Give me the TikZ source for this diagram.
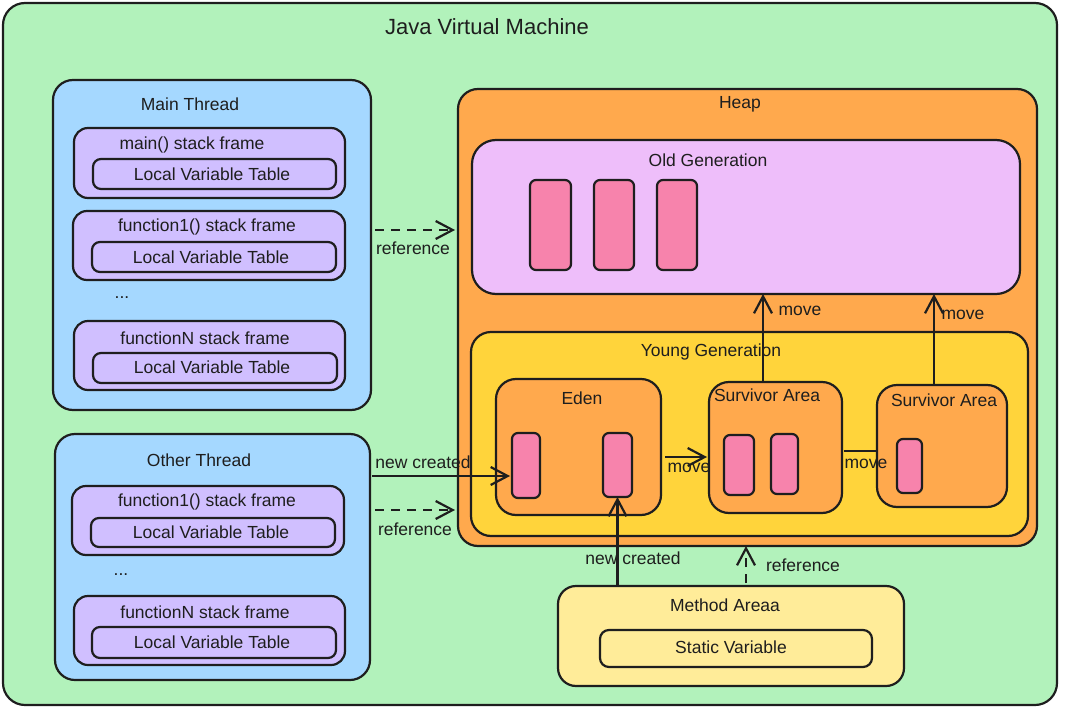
\documentclass[tikz,border=0pt]{standalone}
\usepackage{fontspec}
\setmainfont{Liberation Sans}
\usetikzlibrary{arrows.meta}
\definecolor{jvmc}{HTML}{B2F2BB}
\definecolor{thrc}{HTML}{A5D8FF}
\definecolor{frmc}{HTML}{D0BFFF}
\definecolor{heapc}{HTML}{FFA94D}
\definecolor{oldc}{HTML}{EEBEFA}
\definecolor{youngc}{HTML}{FFD43B}
\definecolor{objc}{HTML}{F783AC}
\definecolor{methc}{HTML}{FFEC99}
\definecolor{inkc}{HTML}{1E1E1E}
\begin{document}
\begin{tikzpicture}[x=1pt,y=-1pt,
  every node/.style={inner sep=0pt, outer sep=0pt, text=inkc},
  area/.style={draw=inkc, line width=2.2pt, rectangle, rounded corners=#1},
  area/.default=16pt,
  lbl/.style={font=\fontsize{17.5}{19}\selectfont},
  ttl/.style={font=\fontsize{22}{24}\selectfont},
  objbox/.style={area=6pt, fill=objc},
  conn/.style={draw=inkc, line width=2.2pt},
  tip/.style={-{Straight Barb[length=17pt,width=18pt,line width=2.2pt]}},
  dashconn/.style={conn, dash pattern=on 9pt off 7pt}
]
\useasboundingbox (0,0) rectangle (1066,712);
% JVM
\node[area=22pt, fill=jvmc, minimum width=1054pt, minimum height=702pt] (jvm) at (530,354) {};
\node[ttl] (jvmt) at (487,27) {Java Virtual Machine};

% Main thread
\node[area=20pt, fill=thrc, minimum width=318pt, minimum height=330pt] (mt) at (212,245) {};
\node[lbl] (mtt) at (190,104) {Main Thread};
\node[area=14pt, fill=frmc, minimum width=271pt, minimum height=70pt] (mf1) at (209.5,163) {};
\node[lbl] (mf1t) at (192,145) {main() stack frame};
\node[area=8pt, fill=frmc, minimum width=243pt, minimum height=30pt] (ml1) at (214.5,174) {};
\node[lbl] (ml1t) at (212,174) {Local Variable Table};
\node[area=14pt, fill=frmc, minimum width=272pt, minimum height=69pt] (mf2) at (209,245.5) {};
\node[lbl] (mf2t) at (207,227) {function1() stack frame};
\node[area=8pt, fill=frmc, minimum width=244pt, minimum height=30pt] (ml2) at (214,257) {};
\node[lbl] (ml2t) at (211,257) {Local Variable Table};
\node[lbl] (mdots) at (122,298) {...};
\node[area=14pt, fill=frmc, minimum width=271pt, minimum height=69pt] (mf3) at (209.5,355.5) {};
\node[lbl] (mf3t) at (205,338) {functionN stack frame};
\node[area=8pt, fill=frmc, minimum width=244pt, minimum height=30pt] (ml3) at (215,368) {};
\node[lbl] (ml3t) at (212,367) {Local Variable Table};

% Other thread
\node[area=20pt, fill=thrc, minimum width=315pt, minimum height=246pt] (ot) at (212.5,557) {};
\node[lbl] (ott) at (199,460) {Other Thread};
\node[area=14pt, fill=frmc, minimum width=272pt, minimum height=69pt] (of1) at (208,520.5) {};
\node[lbl] (of1t) at (207,502) {function1() stack frame};
\node[area=8pt, fill=frmc, minimum width=244pt, minimum height=29pt] (ol1) at (213,532.5) {};
\node[lbl] (ol1t) at (211,532) {Local Variable Table};
\node[lbl] (odots) at (121,575) {...};
\node[area=14pt, fill=frmc, minimum width=271pt, minimum height=69pt] (of2) at (209.5,630.5) {};
\node[lbl] (of2t) at (205,612) {functionN stack frame};
\node[area=8pt, fill=frmc, minimum width=244pt, minimum height=31pt] (ol2) at (214,642.5) {};
\node[lbl] (ol2t) at (212,642) {Local Variable Table};

% Heap
\node[area=20pt, fill=heapc, minimum width=579pt, minimum height=457pt] (heap) at (747.5,317.5) {};
\node[lbl] (heapt) at (740,104) {Heap};
\node[area=24pt, fill=oldc, minimum width=548pt, minimum height=154pt] (old) at (746,217) {};
\node[lbl] (oldt) at (708,160) {Old Generation};
\node[objbox, minimum width=41pt, minimum height=90pt] (op1) at (550.5,225) {};
\node[objbox, minimum width=40pt, minimum height=90pt] (op2) at (614,225) {};
\node[objbox, minimum width=40pt, minimum height=90pt] (op3) at (677,225) {};

\node[area=20pt, fill=youngc, minimum width=557pt, minimum height=204pt] (young) at (749.5,434) {};
\node[lbl] (youngt) at (711,352) {Young Generation};
\node[area=20pt, fill=heapc, minimum width=165pt, minimum height=136pt] (eden) at (578.5,447) {};
\node[lbl] (edent) at (582,398) {Eden};
\node[objbox, minimum width=28pt, minimum height=65pt] (ep1) at (526,465.5) {};
\node[objbox, minimum width=29pt, minimum height=64pt] (ep2) at (617.5,465) {};
\node[area=20pt, fill=heapc, minimum width=133pt, minimum height=131pt] (s1) at (775.5,447.5) {};
\node[lbl] (s1t) at (767,395) {Survivor Area};
\node[objbox, minimum width=30pt, minimum height=60pt] (sp1) at (739,465) {};
\node[objbox, minimum width=27pt, minimum height=60pt] (sp2) at (784.5,464) {};
\node[area=20pt, fill=heapc, minimum width=130pt, minimum height=122pt] (s2) at (942,446) {};
\node[lbl] (s2t) at (944,400) {Survivor Area};
\node[objbox, minimum width=25pt, minimum height=54pt] (sp3) at (909.5,466) {};

% Method area
\node[area=18pt, fill=methc, minimum width=346pt, minimum height=100pt] (meth) at (731,636) {};
\node[lbl] (metht) at (725,605) {Method Areaa};
\node[area=9pt, fill=methc, minimum width=272pt, minimum height=37pt] (stat) at (736,648.5) {};
\node[lbl] (statt) at (731,647) {Static Variable};

% Connectors
\coordinate (a1) at ([yshift=15pt]mt.east);
\draw[dashconn, tip, shorten <=4pt, shorten >=3pt] (a1) -- (a1 -| heap.west);
\node[lbl] (a1l) at (413,248) {reference};

\coordinate (a2) at ([yshift=81pt]ot.east);
\draw[conn, tip, shorten <=2pt, shorten >=2pt] (a2) -- (a2 -| ep1.west);
\node[lbl] (a2l) at (423,462) {new created};

\coordinate (a3) at ([yshift=47pt]ot.east);
\draw[dashconn, tip, shorten <=5pt, shorten >=3pt] (a3) -- (a3 -| heap.west);
\node[lbl] (a3l) at (415,529) {reference};

\coordinate (a4) at ([yshift=-10pt]eden.east);
\draw[conn, tip, shorten <=4pt, shorten >=2pt] (a4) -- (a4 -| s1.west);
\node[lbl] (a4l) at (689,468) {move};

\coordinate (a5) at ([yshift=-3.5pt]s1.east);
\draw[conn, shorten <=2pt] (a5) -- (a5 -| s2.west);
\node[lbl] (a5l) at (866,464) {move};

\coordinate (a6) at ([xshift=-12.5pt]s1.north);
\draw[conn, tip] (a6) -- (a6 |- old.south);
\node[lbl] (a6l) at (800,311) {move};

\coordinate (a7) at ([xshift=-8pt]s2.north);
\draw[conn, tip] (a7) -- (a7 |- old.south);
\node[lbl] (a7l) at (963,315) {move};

\draw[conn, tip] (ep2.south |- meth.north) -- (ep2.south);
\node[lbl] (a8l) at (633,558) {new created};

\coordinate (a9) at ([xshift=15pt]meth.north);
\draw[dashconn, tip, shorten <=3pt] (a9) -- (a9 |- heap.south);
\node[lbl] (a9l) at (803,565) {reference};
\end{tikzpicture}
\end{document}
